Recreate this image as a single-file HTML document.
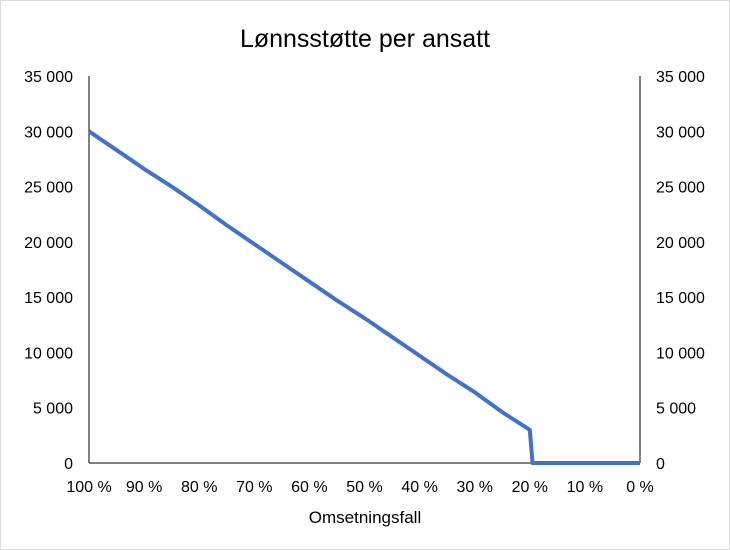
<!DOCTYPE html>
<html><head><meta charset="utf-8"><style>
body{margin:0;background:#fff;}
svg{display:block;font-family:"Liberation Sans",Arial,sans-serif;}
</style></head><body>
<svg id="chart" width="730" height="550" viewBox="0 0 730 550">
<rect x="0.5" y="0.5" width="729" height="549" fill="#fff" stroke="#d9d9d9"/>
<text x="365" y="47" text-anchor="middle" font-size="25" fill="#000">Lønnsstøtte per ansatt</text>
<g id="axes"></g>
<g id="series"></g>
<text x="365" y="523" text-anchor="middle" font-size="17" fill="#000">Omsetningsfall</text>
</svg>
<script>
const xTicks=[100,90,80,70,60,50,40,30,20,10,0];
const yTicks=[0,5000,10000,15000,20000,25000,30000,35000];
const xVals=[100,95,90,85,80,75,70,65,60,55,50,45,40,35,30,25,20,19.5,0];
const yVals=[30000,28300,26600,25000,23300,21500,19800,18100,16400,14700,13100,11400,9700,8000,6400,4600,3000,0,0];
const NS="http://www.w3.org/2000/svg";
const L=89,R=640,T=76,B=463;
const xs=v=>L+(100-v)/100*(R-L);
const ys=v=>B-v/35000*(B-T);
const fmt=v=>v===0?"0":String(v).replace(/\B(?=(\d{3})+(?!\d))/g,"\u00a0");
const axes=document.getElementById('axes');
function mk(tag,attrs,parent){const e=document.createElementNS(NS,tag);for(const k in attrs)e.setAttribute(k,attrs[k]);parent.appendChild(e);return e;}
const la=mk('line',{x1:L,y1:T,x2:L,y2:B,stroke:'#000'},axes);


const ra=mk('line',{x1:R,y1:T,x2:R,y2:B,stroke:'#000'},axes);


const xa=mk('line',{x1:L,y1:B,x2:R,y2:B,stroke:'#000'},axes);


yTicks.forEach(v=>{
  const y=ys(v);
  const t1=mk('text',{x:L-16,y:y+6,'text-anchor':'end','font-size':16},axes);t1.textContent=fmt(v);
  
  
  const t2=mk('text',{x:R+16,y:y+6,'text-anchor':'start','font-size':16},axes);t2.textContent=fmt(v);
  
  
});
xTicks.forEach(v=>{
  const x=xs(v);
  const t=mk('text',{x:x,y:B+29,'text-anchor':'middle','font-size':16},axes);t.textContent=v+" %";
  
  
});
const p=mk('polyline',{points:xVals.map((v,i)=>xs(v)+","+ys(yVals[i])).join(" "),fill:'none',stroke:'#4472c4','stroke-width':4,'stroke-linejoin':'round'},document.getElementById('series'));


</script>
</body></html>
